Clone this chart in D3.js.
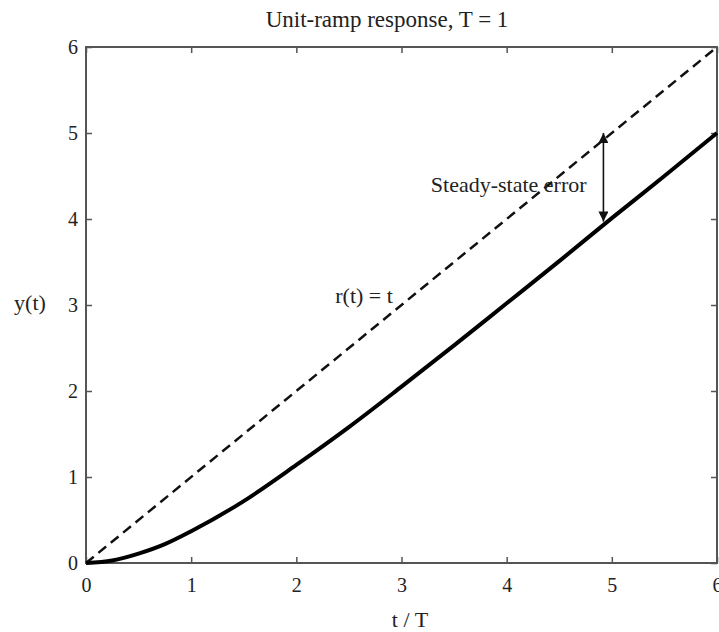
<!DOCTYPE html>
<html lang="en">
<head>
<meta charset="utf-8">
<title>Unit-ramp response</title>
<script src="https://d3js.org/d3.v7.min.js"></script>
<style>
  body { margin: 0; background: #fff; }
  text { font-family: "Liberation Serif", "Times New Roman", serif; fill: #222; }
</style>
</head>
<body>
<script>
// data
var tValues = [0, 0.25, 0.5, 0.75, 1, 1.5, 2, 2.5, 3, 3.5, 4, 4.5, 5, 5.5, 6];
var yValues = [0, 0.03, 0.11, 0.22, 0.37, 0.72, 1.14, 1.58, 2.05, 2.53, 3.02, 3.51, 4.01, 4.5, 5.0];
var rampT = [0, 6];
var rampY = [0, 6];
var xTicks = [0, 1, 2, 3, 4, 5, 6];
var yTicks = [0, 1, 2, 3, 4, 5, 6];
var errorArrowT = 4.92;
var errorArrowY = [3.97, 5.0];

var w = 719, h = 632;
// plot box (note: "top" is reserved on window, so use other names)
var pLeft = 86, pRight = 717, pTop = 47, pBottom = 563;

var svg = d3.select("body").append("svg")
  .attr("width", w)
  .attr("height", h);

var x = d3.scaleLinear().domain([0, 6]).range([pLeft, pRight]);
var y = d3.scaleLinear().domain([0, 6]).range([pBottom, pTop]);

// arrow heads
var defs = svg.append("defs");
defs.append("marker")
  .attr("id", "head")
  .attr("viewBox", "0 0 10 10")
  .attr("refX", 10).attr("refY", 5)
  .attr("markerUnits", "userSpaceOnUse")
  .attr("markerWidth", 11).attr("markerHeight", 10)
  .attr("orient", "auto-start-reverse")
  .append("path")
    .attr("d", "M0,0 L10,5 L0,10 Z")
    .attr("fill", "#111");

// axes: ticks inward on all four sides
svg.append("g")
  .attr("transform", "translate(0," + pBottom + ")")
  .call(d3.axisBottom(x).tickValues(xTicks).tickSize(-6).tickPadding(15).tickFormat(d3.format("d")))
  .call(g => g.select(".domain").remove());
svg.append("g")
  .attr("transform", "translate(0," + pTop + ")")
  .call(d3.axisTop(x).tickValues(xTicks).tickSize(-6).tickFormat(""))
  .call(g => g.select(".domain").remove());
svg.append("g")
  .attr("transform", "translate(" + pLeft + ",0)")
  .call(d3.axisLeft(y).tickValues(yTicks).tickSize(-6).tickPadding(8).tickFormat(d3.format("d")))
  .call(g => g.select(".domain").remove());
svg.append("g")
  .attr("transform", "translate(" + pRight + ",0)")
  .call(d3.axisRight(y).tickValues(yTicks).tickSize(-6).tickFormat(""))
  .call(g => g.select(".domain").remove());

svg.selectAll(".tick line").attr("stroke", "#555").attr("stroke-width", 1.5);
svg.selectAll(".tick text")
  .style("font-family", "'Liberation Serif', serif")
  .style("font-size", "20px")
  .attr("fill", "#222");

// box
svg.append("rect")
  .attr("x", pLeft).attr("y", pTop)
  .attr("width", pRight - pLeft).attr("height", pBottom - pTop)
  .attr("fill", "none")
  .attr("stroke", "#555")
  .attr("stroke-width", 2);

// reference ramp r(t) = t
var rampData = rampT.map((t, i) => [t, rampY[i]]);
svg.append("path")
  .datum(rampData)
  .attr("d", d3.line().x(d => x(d[0])).y(d => y(d[1])))
  .attr("fill", "none")
  .attr("stroke", "#111")
  .attr("stroke-width", 2.5)
  .attr("stroke-dasharray", "10,6");

// response
var respData = tValues.map((t, i) => [t, yValues[i]]);
svg.append("path")
  .datum(respData)
  .attr("d", d3.line().curve(d3.curveMonotoneX).x(d => x(d[0])).y(d => y(d[1])))
  .attr("fill", "none")
  .attr("stroke", "#000")
  .attr("stroke-width", 4)
  .attr("stroke-linejoin", "round");

// steady-state error arrow
svg.append("line")
  .attr("x1", x(errorArrowT)).attr("x2", x(errorArrowT))
  .attr("y1", y(errorArrowY[0])).attr("y2", y(errorArrowY[1]))
  .attr("stroke", "#111")
  .attr("stroke-width", 1.6)
  .attr("marker-start", "url(#head)")
  .attr("marker-end", "url(#head)");

// labels
svg.append("text")
  .attr("x", x(4.76)).attr("y", y(4.31))
  .attr("text-anchor", "end")
  .style("font-size", "22px")
  .text("Steady-state error");

svg.append("text")
  .attr("x", x(2.37)).attr("y", y(3.02))
  .style("font-size", "22px")
  .text("r(t) = t");

svg.append("text")
  .attr("x", 387).attr("y", 27)
  .attr("text-anchor", "middle")
  .style("font-size", "23px")
  .text("Unit-ramp response, T = 1");

svg.append("text")
  .attr("x", 410).attr("y", 627)
  .attr("text-anchor", "middle")
  .style("font-size", "22px")
  .text("t / T");

svg.append("text")
  .attr("x", 30).attr("y", 310)
  .attr("text-anchor", "middle")
  .style("font-size", "22px")
  .text("y(t)");
</script>
</body>
</html>
